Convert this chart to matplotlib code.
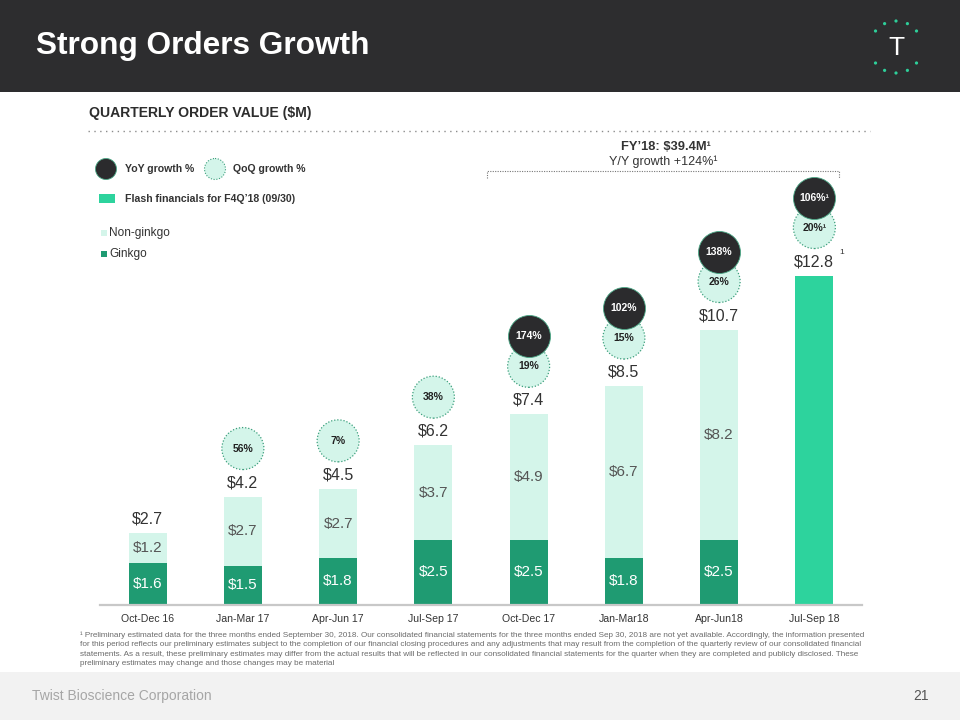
import matplotlib
matplotlib.use('Agg')
import matplotlib.pyplot as plt
from matplotlib.patches import Rectangle, Circle
from matplotlib.lines import Line2D
import numpy as np

plt.rcParams['font.family'] = ['Liberation Sans', 'DejaVu Sans']

# ---------------- data ----------------
quarters = ['Oct-Dec 16', 'Jan-Mar 17', 'Apr-Jun 17', 'Jul-Sep 17',
            'Oct-Dec 17', 'Jan-Mar18', 'Apr-Jun18', 'Jul-Sep 18']
ginkgo = [1.6, 1.5, 1.8, 2.5, 2.5, 1.8, 2.5]          # first 7 quarters
non_ginkgo = [1.2, 2.7, 2.7, 3.7, 4.9, 6.7, 8.2]      # first 7 quarters
flash_total = 12.8                                     # Jul-Sep 18 (flash)
totals = [2.7, 4.2, 4.5, 6.2, 7.4, 8.5, 10.7, 12.8]
qoq = [None, 56, 7, 38, 19, 15, 26, 20]
yoy = [None, None, None, None, 174, 102, 138, 106]

footnote_lines = [
    "\u00b9 Preliminary estimated data for the three months ended September 30, 2018. Our consolidated financial statements for the three months ended Sep 30, 2018 are not yet available. Accordingly, the information presented",
    "for this period reflects our preliminary estimates subject to the completion of our financial closing procedures and any adjustments that may result from the completion of the quarterly review of our consolidated financial",
    "statements. As a result, these preliminary estimates may differ from the actual results that will be reflected in our consolidated financial statements for the quarter when they are completed and publicly disclosed. These",
    "preliminary estimates may change and those changes may be material",
]

# ---------------- colours ----------------
C_HEADER = '#2d2d2f'
C_GINKGO = '#1f9b72'
C_NON = '#d4f5ea'
C_FLASH = '#2dd39d'
C_DARK = '#2b2b2d'
C_QOQ_EDGE = '#3c9f7c'
C_TEXT = '#333333'

fig = plt.figure(figsize=(9.6, 7.2), dpi=100)
bg = fig.add_axes([0, 0, 1, 1])
bg.set_xlim(0, 960)
bg.set_ylim(720, 0)
bg.axis('off')
bg.set_zorder(0)

# header
bg.add_patch(Rectangle((0, 0), 960, 92, color=C_HEADER, lw=0))
bg.text(36, 46, 'Strong Orders Growth', color='white', fontsize=22.8,
        fontweight='bold', va='center', ha='left')
# logo
cx, cy, r = 896, 47, 26
for ang in [142, 116, 90, 64, 38]:
    for sgn in (1, -1):
        a = np.deg2rad(ang)
        bg.add_patch(Circle((cx + r * np.cos(a), cy - sgn * r * np.sin(a)), 1.6,
                            color='#2ecf9a', lw=0))
bg.text(cx, cy + 1, 'T', color='white', fontsize=19, ha='center', va='center')

# footer
bg.add_patch(Rectangle((0, 672), 960, 48, color='#f2f2f2', lw=0))
bg.text(32, 696, 'Twist Bioscience Corporation', color='#a6a6a6', fontsize=10,
        va='center', ha='left')
bg.text(929, 696, '21', color='#555555', fontsize=10, va='center', ha='right')

# section title
bg.text(89, 113, 'QUARTERLY ORDER VALUE ($M)', color='#2d2d2d', fontsize=10.1,
        fontweight='bold', va='center', ha='left')
bg.add_line(Line2D([88, 870], [131, 131], color='#8c8c8c', lw=1.0,
                   linestyle=(0, (1, 3.2))))

# legend
bg.add_patch(Circle((106, 169), 10.5, facecolor=C_DARK, edgecolor='#4aa886', lw=0.6))
bg.text(125, 169, 'YoY growth %', fontsize=7.6, fontweight='bold', color=C_TEXT,
        va='center', ha='left')
bg.add_patch(Circle((215, 169), 10.5, facecolor=C_NON, edgecolor=C_QOQ_EDGE, lw=0.8,
                    linestyle=(0, (1, 1.5))))
bg.text(233, 169, 'QoQ growth %', fontsize=7.6, fontweight='bold', color=C_TEXT,
        va='center', ha='left')
bg.add_patch(Rectangle((99, 194), 16, 9, color=C_FLASH, lw=0))
bg.text(125, 199, 'Flash financials for F4Q\u201918 (09/30)', fontsize=7.6,
        fontweight='bold', color=C_TEXT, va='center', ha='left')
bg.add_patch(Rectangle((101, 230), 6, 6, color=C_NON, lw=0))
bg.text(109, 233, 'Non-ginkgo', fontsize=8.6, color='#333333', va='center', ha='left')
bg.add_patch(Rectangle((101, 251), 6, 6, color=C_GINKGO, lw=0))
bg.text(109, 254, 'Ginkgo', fontsize=8.6, color='#333333', va='center', ha='left')

# FY18 bracket
bg.text(666, 147, 'FY\u201918: $39.4M\u00b9', fontsize=9.3, fontweight='bold',
        color=C_TEXT, ha='center', va='center')
bg.text(663, 162, 'Y/Y growth +124%\u00b9', fontsize=9, color=C_TEXT,
        ha='center', va='center')
bg.add_line(Line2D([487, 487, 839, 839], [178, 171, 171, 178], color='#777777',
                   lw=0.8, linestyle=(0, (1, 1.2))))

# footnote
for i, line in enumerate(footnote_lines):
    bg.text(80, 635 + i * 9.6, line, fontsize=5.82, color='#6b6b6b',
            va='center', ha='left')

# ---------------- chart ----------------
ax_top_px, ax_bot_px, ax_l, ax_r = 140, 604.5, 100, 862
ax = fig.add_axes([ax_l / 960, (720 - ax_bot_px) / 720, (ax_r - ax_l) / 960,
                   (ax_bot_px - ax_top_px) / 720])
ax.set_zorder(2)
ax.patch.set_alpha(0)
ppu = 25.7
ymax = (ax_bot_px - ax_top_px) / ppu
ax.set_ylim(0, ymax)
ax.set_xlim(-0.5, len(quarters) - 0.5)

x = np.arange(len(quarters))
n_hist = len(ginkgo)
w = 0.4
ax.bar(x[:n_hist], ginkgo, width=w, color=C_GINKGO, lw=0)
ax.bar(x[:n_hist], non_ginkgo, bottom=ginkgo, width=w, color=C_NON, lw=0)
ax.bar(x[-1], flash_total, width=w, color=C_FLASH, lw=0)

tops = [g + n for g, n in zip(ginkgo, non_ginkgo)] + [flash_total]

for i in range(n_hist):
    ax.text(x[i], ginkgo[i] / 2, f'${ginkgo[i]:.1f}', color='white', fontsize=11,
            ha='center', va='center')
    ax.text(x[i], ginkgo[i] + non_ginkgo[i] / 2, f'${non_ginkgo[i]:.1f}',
            color='#555555', fontsize=11, ha='center', va='center')

for i, t in enumerate(totals):
    ax.text(x[i], tops[i] + 14 / ppu, f'${t:.1f}', color=C_TEXT, fontsize=11.5,
            ha='center', va='center')
ax.text(x[-1] + 27 / 95.25, tops[-1] + 23 / ppu, '1', color=C_TEXT, fontsize=6,
        ha='center', va='center')

d_pts = 42 * 72 / 100
s = d_pts ** 2
for i, q in enumerate(qoq):
    if q is None:
        continue
    yq = tops[i] + 48 / ppu
    ax.scatter([x[i]], [yq], s=s, facecolor=C_NON, edgecolor=C_QOQ_EDGE,
               linewidths=0.9, linestyle=(0, (1, 1.5)), zorder=3, clip_on=False)
    lab = f'{q}%' + ('\u00b9' if i == len(qoq) - 1 else '')
    ax.text(x[i], yq, lab, fontsize=7.5, fontweight='bold', color='#222222',
            ha='center', va='center', zorder=4)
for i, yv in enumerate(yoy):
    if yv is None:
        continue
    yy = tops[i] + 78 / ppu
    ax.scatter([x[i]], [yy], s=s, facecolor=C_DARK, edgecolor='#4aa886',
               linewidths=0.6, zorder=5, clip_on=False)
    lab = f'{yv}%' + ('\u00b9' if i == len(yoy) - 1 else '')
    ax.text(x[i], yy, lab, fontsize=7.5, fontweight='bold', color='white',
            ha='center', va='center', zorder=6)

for sp in ['top', 'right', 'left']:
    ax.spines[sp].set_visible(False)
ax.spines['bottom'].set_color('#c8c8c8')
ax.spines['bottom'].set_linewidth(1.6)
ax.set_yticks([])
ax.set_xticks(x)
ax.set_xticklabels(quarters, fontsize=7.6, color=C_TEXT)
ax.tick_params(axis='x', length=0, pad=7)

fig.savefig('out.png', dpi=100)
